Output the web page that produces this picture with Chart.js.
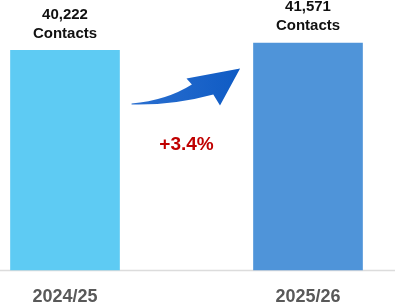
<!DOCTYPE html>
<html>
<head>
<meta charset="utf-8">
<script src="https://cdn.jsdelivr.net/npm/chart.js@4"></script>
<style>
  body { margin: 0; background: #fff; }
  #wrap { width: 395px; height: 307px; }
  canvas { display: block; }
</style>
</head>
<body>
<div id="wrap"><canvas id="chart" width="395" height="307"></canvas></div>
<script>
const years = ["2024/25", "2025/26"];
const contacts = [40222, 41571];
const barColors = ["#5ECBF3", "#4F94D9"];
const unitLabel = "Contacts";

const change = ((contacts[1] - contacts[0]) / contacts[0]) * 100;
const changeText = (change >= 0 ? "+" : "") + change.toFixed(1) + "%";

// baseline across the whole width, under the bars
const baseline = {
  id: "baseline",
  beforeDatasetsDraw(chart) {
    const ctx = chart.ctx;
    const y = chart.scales.y.getPixelForValue(0);
    ctx.save();
    ctx.strokeStyle = "#dcdcdc";
    ctx.lineWidth = 1.5;
    ctx.beginPath();
    ctx.moveTo(0, y + 0.5);
    ctx.lineTo(chart.width, y + 0.5);
    ctx.stroke();
    ctx.restore();
  }
};

// value labels, growth arrow and percentage
const annotations = {
  id: "annotations",
  afterDatasetsDraw(chart) {
    const ctx = chart.ctx;
    const bars = chart.getDatasetMeta(0).data;
    ctx.save();
    ctx.textAlign = "center";
    ctx.textBaseline = "middle";
    ctx.fillStyle = "#111";
    ctx.font = "bold 15px 'Liberation Sans', Arial, sans-serif";
    bars.forEach((b, i) => {
      ctx.fillText(contacts[i].toLocaleString("en-US"), b.x, b.y - 36);
      ctx.fillText(unitLabel, b.x, b.y - 17);
    });

    // arrow between the bars
    const b1 = bars[0], b2 = bars[1];
    const x0 = b1.x + b1.width / 2, x1 = b2.x - b2.width / 2;
    const w = x1 - x0;
    const top = b1.y;
    const px = f => x0 + w * f;
    ctx.beginPath();
    ctx.moveTo(px(0.09), top + 53);
    ctx.quadraticCurveTo(px(0.35), top + 50, px(0.54), top + 34);
    ctx.lineTo(px(0.5), top + 28);
    ctx.lineTo(px(0.9), top + 18);
    ctx.lineTo(px(0.75), top + 55);
    ctx.lineTo(px(0.7), top + 44);
    ctx.quadraticCurveTo(px(0.4), top + 55, px(0.09), top + 54);
    ctx.closePath();
    const g = ctx.createLinearGradient(px(0.1), 0, px(0.9), 0);
    g.addColorStop(0, "#2a6fd0");
    g.addColorStop(1, "#0f5bc4");
    ctx.fillStyle = g;
    ctx.fill();

    ctx.fillStyle = "#C00000";
    ctx.font = "bold 19px 'Liberation Sans', Arial, sans-serif";
    ctx.fillText(changeText, (x0 + x1) / 2, top + 94);
    ctx.restore();
  }
};

new Chart(document.getElementById("chart"), {
  type: "bar",
  data: {
    labels: years,
    datasets: [{
      data: contacts,
      backgroundColor: barColors,
      barThickness: 109,
      clip: false
    }]
  },
  options: {
    responsive: false,
    animation: false,
    layout: { padding: { top: 8, left: 65, right: 87, bottom: 0 } },
    plugins: { legend: { display: false }, tooltip: { enabled: false } },
    scales: {
      x: {
        offset: false,
        grid: { display: false, drawTicks: false },
        border: { display: false },
        ticks: {
          padding: 16,
          maxRotation: 0,
          color: "#595959",
          font: { family: "'Liberation Sans', Arial, sans-serif", size: 18, weight: "bold" }
        },
        afterFit(scale) { scale.height = 37; }
      },
      y: {
        display: false,
        min: 0,
        max: 48000
      }
    }
  },
  plugins: [baseline, annotations]
});
</script>
</body>
</html>
